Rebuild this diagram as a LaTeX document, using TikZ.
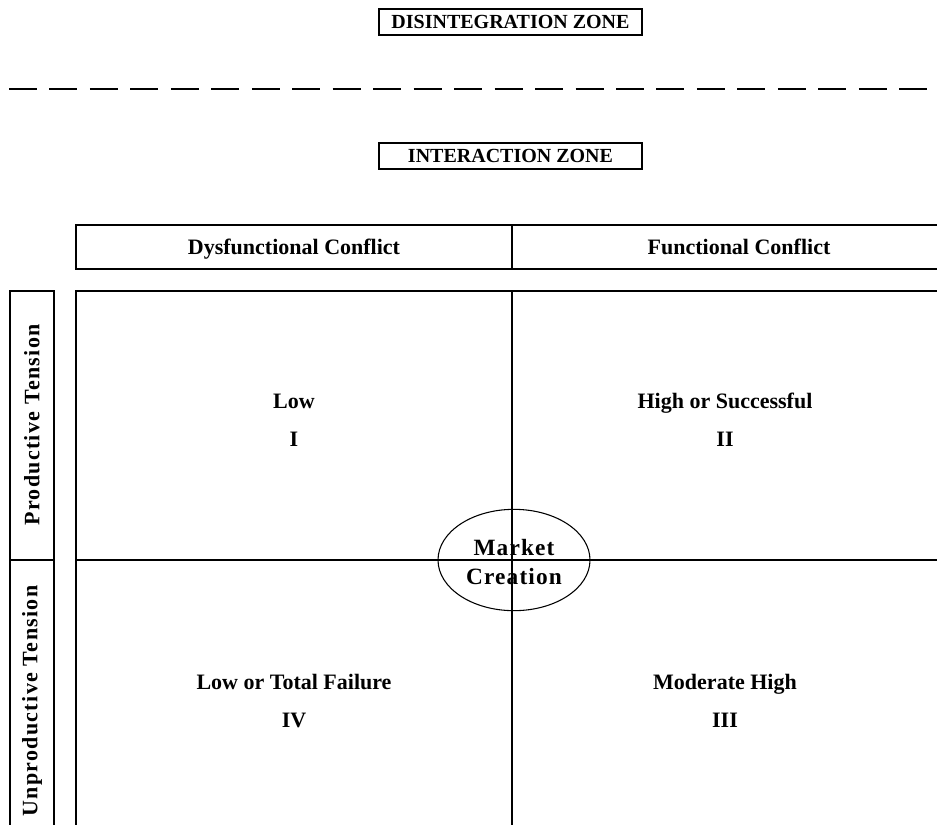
\documentclass[tikz,border=0pt]{standalone}
\usepackage{fontspec}
\setmainfont{Liberation Serif}
\newfontfamily\sidefont[LetterSpace=6]{Liberation Serif}
\newfontfamily\ovalfont[LetterSpace=5]{Liberation Serif}
\begin{document}
\begin{tikzpicture}[x=0.75pt,y=-0.75pt,
  zonebox/.style={draw,line width=1.1pt,minimum width=197pt,minimum height=19.5pt,inner sep=0pt,
    font=\bfseries\fontsize{15}{16}\selectfont},
  gridline/.style={line width=0.8pt},
  headtxt/.style={anchor=base,font=\bfseries\fontsize{16.5}{20}\selectfont},
  quadtxt/.style={font=\bfseries\fontsize{16.5}{28.5}\selectfont,align=center},
  sidetxt/.style={rotate=90,font=\sidefont\bfseries\fontsize{16.5}{18}\selectfont},
  ovaltxt/.style={font=\ovalfont\bfseries\fontsize{17.5}{22}\selectfont,align=center}]
\path[use as bounding box] (0,0) rectangle (937,824);
\clip (0,0) rectangle (937,824);
% zones
\node[zonebox] (dz) at (510.5,22) {DISINTEGRATION ZONE};
\coordinate (dashL) at (9,89);
\coordinate (dashR) at (927,89);
\draw[line width=2pt,dash pattern=on 21pt off 9.35pt] (dashL) -- (dashR);
\node[zonebox] (iz) at (510.5,156) {\raisebox{-2pt}{INTERACTION ZONE}};
% header row
\draw[gridline] (76,225) rectangle (1000,269);
\draw[gridline] (512,225) -- (512,269);
\node[headtxt] (dys) at (294,254) {Dysfunctional Conflict};
\node[headtxt] (fun) at (739,254) {Functional Conflict};
% main grid
\draw[gridline] (76,291) rectangle (1000,900);
\draw[gridline] (512,291) -- (512,900);
\draw[gridline] (76,560) -- (1000,560);
% side column
\draw[gridline] (10,291) rectangle (54,900);
\draw[gridline] (10,560) -- (54,560);
\node[sidetxt] (pt) at (32,425) {Productive Tension};
\node[sidetxt] (ut) at (32,701) {Unproductive Tension};
% quadrant labels
\node[quadtxt] (q1) at (294,420) {Low\\I};
\node[quadtxt] (q2) at (725,420) {High or Successful\\II};
\node[quadtxt] (q4) at (294,701) {Low or Total Failure\\IV};
\node[quadtxt] (q3) at (725,701) {Moderate High\\III};
% market creation
\draw[line width=0.8pt] (514,560) ellipse [x radius=57pt, y radius=38pt];
\node[ovaltxt] (mc) at (514,562) {Market\\Creation};
\end{tikzpicture}
\end{document}
